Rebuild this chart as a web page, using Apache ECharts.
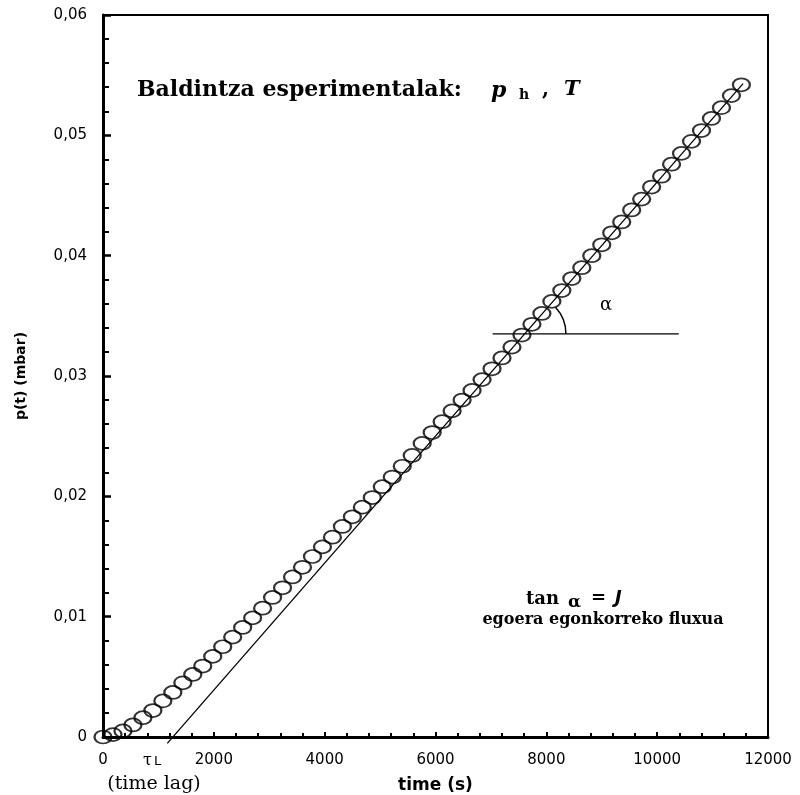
<!DOCTYPE html>
<html>
<head>
<meta charset="utf-8">
<script src="https://cdn.jsdelivr.net/npm/echarts@6/dist/echarts.min.js"></script>
<style>
  html, body { margin: 0; padding: 0; background: #fff; }
  #chart { width: 800px; height: 795px; }
</style>
</head>
<body>
<div id="chart"></div>
<script>
// neurketak: denbora (s) eta presioa (mbar)
const timeS = [
  0, 180, 360, 540, 720, 900, 1080, 1260, 1440, 1620,
  1800, 1980, 2160, 2340, 2520, 2700, 2880, 3060, 3240, 3420,
  3600, 3780, 3960, 4140, 4320, 4500, 4680, 4860, 5040, 5220,
  5400, 5580, 5760, 5940, 6120, 6300, 6480, 6660, 6840, 7020,
  7200, 7380, 7560, 7740, 7920, 8100, 8280, 8460, 8640, 8820,
  9000, 9180, 9360, 9540, 9720, 9900, 10080, 10260, 10440, 10620,
  10800, 10980, 11160, 11340, 11520
];
const pressure = [
  0, 0.0002, 0.0005, 0.0010, 0.0016, 0.0022, 0.0030, 0.0037, 0.0045, 0.0052,
  0.0059, 0.0067, 0.0075, 0.0083, 0.0091, 0.0099, 0.0107, 0.0116, 0.0124, 0.0133,
  0.0141, 0.0150, 0.0158, 0.0166, 0.0175, 0.0183, 0.0191, 0.0199, 0.0208, 0.0216,
  0.0225, 0.0234, 0.0244, 0.0253, 0.0262, 0.0271, 0.0280, 0.0288, 0.0297, 0.0306,
  0.0315, 0.0324, 0.0334, 0.0343, 0.0352, 0.0362, 0.0371, 0.0381, 0.0390, 0.0400,
  0.0409, 0.0419, 0.0428, 0.0438, 0.0447, 0.0457, 0.0466, 0.0476, 0.0485, 0.0495,
  0.0504, 0.0514, 0.0523, 0.0533, 0.0542
];

// egoera egonkorreko zuzena (time lag-etik abiatuta)
const tangentT = [1160, 11550];
const tangentP = [-0.00053, 0.0543];

// alfa angeluaren lerro horizontala
const alphaT = [7030, 10390];
const alphaP = [0.0335, 0.0335];
const alphaVertex = [7650, 0.0335];

const xTicks = [0, 2000, 4000, 6000, 8000, 10000, 12000];
const yTicks = [0, 0.01, 0.02, 0.03, 0.04, 0.05, 0.06];

const toPairs = (xs, ys) => xs.map((x, i) => [x, ys[i]]);

const chart = echarts.init(document.getElementById('chart'));

const ellipse = 'path://M0 10 A10 10 0 1 1 20 10 A10 10 0 1 1 0 10 Z';
const sans = 'DejaVu Sans';
const serif = 'DejaVu Serif';

const option = {
  animation: false,
  grid: {
    left: 103, right: 32, top: 15, bottom: 58,
    outerBoundsMode: 'none',
    show: true, borderColor: '#000', borderWidth: 2
  },
  xAxis: {
    type: 'value',
    min: xTicks[0],
    max: xTicks[xTicks.length - 1],
    interval: 2000,
    name: 'time (s)',
    nameLocation: 'middle',
    nameGap: 40,
    nameTextStyle: { fontFamily: sans, fontWeight: 'bold', fontSize: 17, color: '#000' },
    axisLine: { lineStyle: { color: '#000', width: 3 } },
    axisTick: { inside: true, length: 5, lineStyle: { color: '#000', width: 2 } },
    minorTick: { show: true, splitNumber: 5, length: 4, lineStyle: { color: '#000', width: 2 } },
    axisLabel: {
      fontFamily: sans, fontSize: 15, color: '#000', margin: 16,
      formatter: (v) => String(v)
    },
    splitLine: { show: false }
  },
  yAxis: {
    type: 'value',
    min: yTicks[0],
    max: yTicks[yTicks.length - 1],
    interval: 0.01,
    name: 'p(t) (mbar)',
    nameLocation: 'middle',
    nameGap: 75,
    nameRotate: 90,
    nameTextStyle: { fontFamily: sans, fontWeight: 'bold', fontSize: 14, color: '#000' },
    axisLine: { lineStyle: { color: '#000', width: 3 } },
    axisTick: { inside: true, length: 8, lineStyle: { color: '#000', width: 2.5 } },
    minorTick: { show: true, splitNumber: 5, length: 6, lineStyle: { color: '#000', width: 2 } },
    axisLabel: {
      fontFamily: sans, fontSize: 15, color: '#000', margin: 16,
      formatter: (v) => v === 0 ? '0' : v.toFixed(2).replace('.', ',')
    },
    splitLine: { show: false }
  },
  series: [
    {
      name: 'tangentea',
      type: 'line',
      data: toPairs(tangentT, tangentP),
      showSymbol: false,
      clip: false,
      lineStyle: { color: '#000', width: 1.3 },
      z: 2
    },
    {
      name: 'alfa',
      type: 'line',
      data: toPairs(alphaT, alphaP),
      showSymbol: false,
      lineStyle: { color: '#000', width: 1.3 },
      z: 2
    },
    {
      name: 'p(t)',
      type: 'scatter',
      data: toPairs(timeS, pressure),
      symbol: ellipse,
      symbolSize: [17, 13],
      clip: false,
      itemStyle: { color: 'rgba(0,0,0,0)', borderColor: '#000', borderWidth: 2 },
      z: 3
    }
  ]
};

chart.setOption(option);

// angeluaren arkua eta testuak
const vertex = chart.convertToPixel({ gridIndex: 0 }, alphaVertex);
const txt = (text, x, y, family, size, extra) => ({
  type: 'text',
  x, y,
  style: Object.assign({
    text, fill: '#000', fontFamily: family, fontSize: size,
    verticalAlign: 'middle', align: 'left'
  }, extra || {})
});

chart.setOption({
  graphic: [
    {
      type: 'arc',
      shape: { cx: vertex[0], cy: vertex[1], r: 39, startAngle: -0.75, endAngle: 0 },
      style: { stroke: '#000', lineWidth: 1.5, fill: 'none' }
    },
    txt('α', 600, 305, serif, 18),
    txt('Baldintza esperimentalak:', 137, 90, serif, 22, { fontWeight: 'bold' }),
    txt('p', 491, 91, serif, 22, { fontStyle: 'italic', fontWeight: 'bold' }),
    txt('h', 519, 95, serif, 14, { fontWeight: 'bold' }),
    txt(',', 542, 90, serif, 20, { fontWeight: 'bold' }),
    txt('T', 564, 90, serif, 21, { fontStyle: 'italic', fontWeight: 'bold' }),
    txt('tan', 526, 599, serif, 18, { fontWeight: 'bold' }),
    txt('α', 568, 603, serif, 17, { fontWeight: 'bold' }),
    txt('=', 591, 598, sans, 18, { fontWeight: 'bold' }),
    txt('J', 615, 598, sans, 18, { fontStyle: 'italic', fontWeight: 'bold' }),
    txt('egoera egonkorreko fluxua', 603, 620, serif, 16, { fontWeight: 'bold', align: 'center' }),
    txt('τ', 143, 761, serif, 16),
    txt('L', 154, 762, sans, 13),
    txt('(time lag)', 154, 784, serif, 19, { align: 'center' })
  ]
});
</script>
</body>
</html>
